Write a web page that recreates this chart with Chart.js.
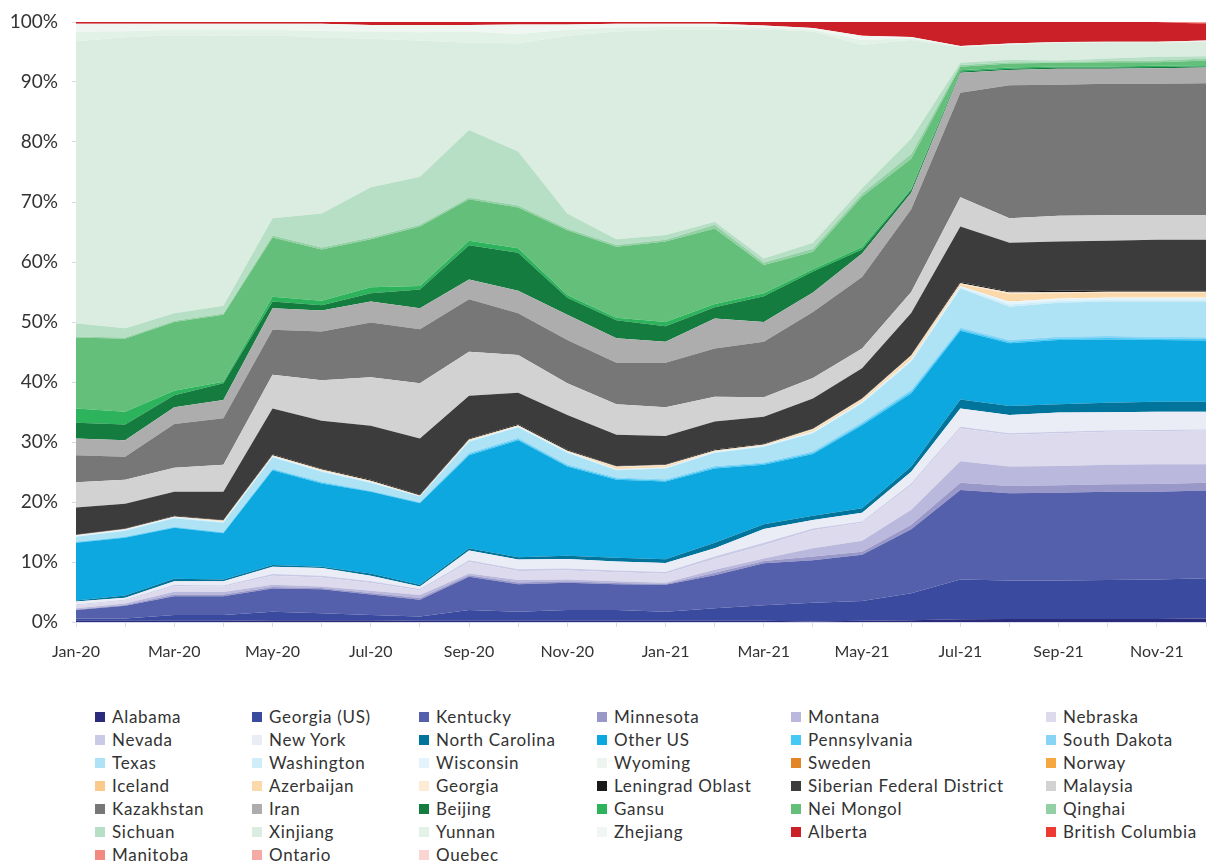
<!DOCTYPE html>
<html>
<head>
<meta charset="utf-8">
<script src="https://cdn.jsdelivr.net/npm/chart.js@4.4.1/dist/chart.umd.min.js"></script>
<style>
  html, body { margin: 0; padding: 0; background: #ffffff; }
  body { width: 1208px; height: 861px; position: relative; overflow: hidden; font-family: Lato, "Open Sans", sans-serif; }
  #wrap { position: absolute; left: 0; top: 0; width: 1208px; height: 680px; }
  #legend { position: absolute; left: 95px; top: 705px; display: grid;
            grid-template-columns: 157px 167px 178px 194px 255px auto; grid-auto-rows: 23px; }
  .item { display: flex; align-items: center; font-size: 17px; color: #333333; letter-spacing: 0.7px; white-space: nowrap; }
  .box { width: 10px; height: 10px; margin-right: 7px; flex: none; }
</style>
</head>
<body>
<div id="wrap"><canvas id="c" width="1208" height="680"></canvas></div>
<div id="legend"></div>
<script>
const months = ["Jan-20","Feb-20","Mar-20","Apr-20","May-20","Jun-20","Jul-20","Aug-20","Sep-20","Oct-20","Nov-20","Dec-20",
                "Jan-21","Feb-21","Mar-21","Apr-21","May-21","Jun-21","Jul-21","Aug-21","Sep-21","Oct-21","Nov-21","Dec-21"];
const yTicks = [0,10,20,30,40,50,60,70,80,90,100];

const alabama      = [0.2,0.2,0.2,0.2,0.3,0.3,0.3,0.2,0.2,0.2,0.2,0.2,0.2,0.2,0.2,0.1,0.2,0.3,0.45,0.5,0.5,0.5,0.5,0.6];
const georgiaUS    = [0.4,0.4,0.95,0.95,1.4,1.15,0.85,0.7,1.8,1.5,1.8,1.8,1.5,2.1,2.6,3.1,3.3,4.5,6.65,6.4,6.4,6.5,6.6,6.7];
const kentucky     = [1.4,2.1,3.15,3.15,3.9,4.0,3.45,2.8,5.55,4.6,4.55,4.3,4.5,5.5,7.0,7.1,7.7,10.65,14.9,14.55,14.65,14.7,14.6,14.6];
const minnesota    = [0.1,0.15,0.3,0.3,0.25,0.2,0.25,0.3,0.25,0.3,0.25,0.2,0.15,0.4,0.35,0.6,0.5,0.75,1.2,1.2,1.25,1.25,1.3,1.3];
const montana      = [0.2,0.25,0.45,0.4,0.35,0.25,0.35,0.5,0.3,0.4,0.3,0.3,0.2,0.5,0.45,1.4,1.85,2.5,3.6,3.25,3.2,3.25,3.3,3.1];
const nebraska     = [0.5,0.5,0.9,0.9,1.5,1.5,1.3,0.8,1.9,1.5,1.5,1.5,1.5,1.8,2.2,3.0,3.0,4.1,5.45,5.3,5.45,5.5,5.5,5.6];
const nevada       = [0.1,0.1,0.2,0.2,0.3,0.3,0.3,0.2,0.3,0.3,0.3,0.3,0.3,0.4,0.4,0.3,0.2,0.3,0.3,0.25,0.25,0.2,0.2,0.2];
const newYork      = [0.5,0.35,0.65,0.7,1.2,1.3,0.9,0.4,1.6,1.6,1.6,1.5,1.5,1.4,2.3,1.4,1.45,1.95,3.05,3.05,3.2,3.05,3.05,2.95];
const northCarolina= [0.2,0.35,0.4,0.3,0.3,0.2,0.4,0.3,0.4,0.4,0.55,0.6,0.6,0.9,0.8,0.7,0.75,0.85,1.5,1.5,1.4,1.6,1.65,1.65];
const otherUS      = [9.6,9.65,8.5,7.7,15.8,13.9,13.6,13.6,15.5,19.5,14.85,13.0,12.95,12.4,9.9,10.3,13.85,12.2,11.45,10.45,10.7,10.55,10.3,10.2];
const pennsylvania = [0.1,0.1,0.1,0.1,0.15,0.15,0.1,0.1,0.2,0.2,0.2,0.2,0.2,0.2,0.2,0.2,0.25,0.3,0.25,0.25,0.25,0.25,0.25,0.25];
const southDakota  = [0.1,0.1,0.1,0.1,0.15,0.15,0.1,0.1,0.2,0.2,0.2,0.2,0.2,0.2,0.2,0.25,0.3,0.3,0.3,0.3,0.3,0.3,0.3,0.3];
const texas        = [0.8,0.95,1.4,1.55,1.85,1.65,1.3,0.9,1.85,1.75,1.9,1.2,1.8,2.2,2.6,3.0,3.1,4.7,6.5,5.55,5.65,5.75,5.85,5.95];
const washington   = [0.1,0.1,0.1,0.1,0.1,0.1,0.1,0.05,0.1,0.1,0.1,0.1,0.1,0.1,0.1,0.15,0.15,0.2,0.2,0.35,0.3,0.3,0.3,0.3];
const wisconsin    = [0.1,0.1,0.1,0.1,0.1,0.1,0.1,0.05,0.1,0.1,0.1,0.1,0.1,0.1,0.1,0.15,0.15,0.2,0.2,0.4,0.3,0.3,0.3,0.3];
const wyoming      = [0,0,0,0,0,0,0,0,0,0,0,0,0,0,0,0,0,0,0,0.1,0.1,0.1,0.1,0.1];
const sweden       = [0,0,0,0,0,0,0,0,0,0,0,0,0,0,0,0,0,0,0,0,0,0,0,0];
const norway       = [0,0,0,0,0,0,0,0,0,0,0,0,0,0,0,0,0,0,0,0,0,0,0,0];
const iceland      = [0,0,0,0,0,0,0,0,0,0,0,0.1,0.1,0.05,0.05,0.1,0.1,0.15,0.15,0.2,0.1,0.1,0.1,0.1];
const azerbaijan   = [0.1,0.1,0.1,0.15,0.15,0.15,0.15,0.1,0.15,0.15,0.15,0.2,0.15,0.1,0.1,0.2,0.25,0.35,0.2,1.1,0.8,0.7,0.7,0.7];
const georgia      = [0,0,0,0,0,0,0,0,0,0,0,0.1,0.1,0.05,0.05,0.1,0.1,0.1,0.1,0.2,0.15,0.15,0.15,0.15];
const leningrad    = [0.1,0.1,0.1,0.1,0.15,0.15,0.15,0.1,0.15,0.15,0.15,0.1,0.1,0.15,0.1,0.1,0.1,0.1,0.2,0.2,0.25,0.25,0.25,0.25];
const siberian     = [4.5,4.1,4.0,4.7,7.65,8.0,9.0,9.4,7.15,5.25,5.8,5.2,4.75,4.65,4.5,5.0,5.0,7.0,9.25,8.1,8.2,8.25,8.4,8.4];
const malaysia     = [4.2,4.0,4.0,4.5,5.6,6.75,8.1,9.2,7.35,6.3,5.3,5.1,4.8,4.15,3.25,3.4,3.3,3.5,4.9,4.1,4.3,4.25,4.1,4.1];
const kazakhstan   = [4.5,3.85,7.3,7.75,7.5,8.1,9.1,9.0,8.75,6.95,7.2,6.9,7.4,8.05,9.25,11.0,11.9,13.8,17.4,22.15,21.85,21.9,21.9,22.0];
const iran         = [2.8,2.75,2.8,3.05,3.6,3.5,3.5,3.5,3.3,3.75,4.2,4.1,3.5,5.0,3.3,3.25,3.9,2.75,3.35,2.55,2.65,2.5,2.6,2.6];
const beijing      = [2.6,2.6,2.0,2.8,1.1,0.9,1.4,3.1,5.7,6.35,2.85,3.0,2.6,1.85,4.3,3.5,0.7,0.45,0.2,0.2,0.2,0.2,0.2,0.2];
const gansu        = [2.4,2.15,0.75,0.25,0.8,0.75,1.0,0.6,0.75,0.75,0.45,0.4,0.7,0.55,0.5,0.4,0.4,0.2,0.2,0.2,0.2,0.2,0.2,0.2];
const neiMongol    = [11.8,12.15,11.45,11.15,9.9,8.55,8.0,9.9,6.9,6.8,10.8,11.85,13.4,12.6,4.7,2.9,8.4,5.0,0.6,0.7,0.6,0.7,0.6,0.8];
const qinghai      = [0.2,0.2,0.2,0.2,0.3,0.3,0.3,0.3,0.3,0.3,0.3,0.3,0.3,0.6,0.4,0.5,0.5,0.8,0.3,0.2,0.1,0.2,0.3,0.3];
const sichuan      = [2.2,1.55,1.25,1.3,2.9,5.7,8.35,8.0,11.25,9.0,2.5,0.95,0.8,0.5,0.7,1.0,0.9,2.6,0.35,0.4,0.3,0.4,0.6,0.4];
const xinjiang     = [47.0,48.5,46.35,45.0,30.5,29.3,24.75,22.7,14.55,18.05,29.6,34.6,34.2,32.0,38.2,35.2,23.9,16.4,2.6,2.5,2.95,2.65,2.35,2.4];
const yunnan       = [1.6,1.0,0.9,1.0,0.9,1.1,1.2,1.4,1.85,1.55,1.0,0.7,0.5,0.5,0.3,0.3,0.8,0.3,0.1,0.1,0.05,0.1,0.1,0.1];
const zhejiang     = [1.3,1.25,1.0,1.0,1.0,1.2,1.1,1.2,1.1,1.6,0.9,0.6,0.5,0.5,0.3,0.3,0.7,0.2,0.1,0.1,0.05,0.05,0.05,0.1];
const alberta      = [0.3,0.3,0.3,0.3,0.3,0.3,0.5,0.5,0.5,0.4,0.4,0.3,0.3,0.3,0.6,1.0,2.3,2.5,4.0,3.6,3.35,3.3,3.3,2.8];
const britishColumbia = [0,0,0,0,0,0,0,0,0,0,0,0,0,0,0,0,0,0,0,0,0,0,0,0.15];
const manitoba     = [0,0,0,0,0,0,0,0,0,0,0,0,0,0,0,0,0,0,0,0,0,0,0,0.1];
const ontario      = [0,0,0,0,0,0,0,0,0,0,0,0,0,0,0,0,0,0,0,0,0,0,0,0.05];
const quebec       = [0,0,0,0,0,0,0,0,0,0,0,0,0,0,0,0,0,0,0,0,0,0,0,0];

const seriesNames = ["Alabama","Georgia (US)","Kentucky","Minnesota","Montana","Nebraska",
  "Nevada","New York","North Carolina","Other US","Pennsylvania","South Dakota",
  "Texas","Washington","Wisconsin","Wyoming","Sweden","Norway",
  "Iceland","Azerbaijan","Georgia","Leningrad Oblast","Siberian Federal District","Malaysia",
  "Kazakhstan","Iran","Beijing","Gansu","Nei Mongol","Qinghai",
  "Sichuan","Xinjiang","Yunnan","Zhejiang","Alberta","British Columbia",
  "Manitoba","Ontario","Quebec"];
const seriesValues = [alabama,georgiaUS,kentucky,minnesota,montana,nebraska,
  nevada,newYork,northCarolina,otherUS,pennsylvania,southDakota,
  texas,washington,wisconsin,wyoming,sweden,norway,
  iceland,azerbaijan,georgia,leningrad,siberian,malaysia,
  kazakhstan,iran,beijing,gansu,neiMongol,qinghai,
  sichuan,xinjiang,yunnan,zhejiang,alberta,britishColumbia,
  manitoba,ontario,quebec];
const seriesColors = ["#2b2b7b","#3a4a9e","#5560ac","#9a98c8","#bab8dc","#dcdaec",
  "#c8cae6","#eaecf6","#00749a","#0ea8e0","#44c8f5","#88d4f4",
  "#aee2f5","#d0eefa","#e2f3fb","#eef5f0","#e38525","#f5a741",
  "#fbc98a","#fbd9ab","#fdebd6","#1a1a1a","#3c3c3c","#d2d2d2",
  "#777777","#adadad","#137c3e","#2cb35b","#64bf7a","#94d0a5",
  "#b7dfc5","#dbede1","#e3f2e7","#f0f7f2","#cb2027","#ec3b33",
  "#f28a82","#f6aaa5","#fad5d2"];

const datasets = seriesNames.map((name, i) => ({
  label: name,
  data: seriesValues[i],
  backgroundColor: seriesColors[i],
  borderColor: seriesColors[i],
  borderWidth: 0,
  pointRadius: 0,
  fill: i === 0 ? 'origin' : '-1',
  tension: 0
}));

const tickColor = '#d5dbec';
new Chart(document.getElementById('c'), {
  type: 'line',
  data: { labels: months, datasets: datasets },
  options: {
    responsive: false,
    animation: false,
    layout: { padding: { top: 22, right: 2, left: 0, bottom: 0 } },
    plugins: { legend: { display: false }, tooltip: { enabled: false } },
    elements: { line: { borderWidth: 0 } },
    scales: {
      x: {
        grid: { display: true, drawOnChartArea: false, drawTicks: true, tickLength: 5, color: tickColor },
        border: { display: true, color: tickColor },
        ticks: {
          autoSkip: false, maxRotation: 0, padding: 15, color: '#333333',
          font: { family: 'Lato', size: 16 },
          callback: function(v, i) { return i % 2 === 0 ? months[i] : ''; }
        },
        afterFit: function(s) { s.height = 58; s.paddingLeft = 0; s.paddingRight = 0; }
      },
      y: {
        stacked: true, min: 0, max: 100,
        grid: { display: true, drawOnChartArea: false, drawTicks: true, tickLength: 4, color: tickColor },
        border: { display: false },
        ticks: {
          stepSize: 10, padding: 14, color: '#333333',
          font: { family: 'Lato', size: 19 },
          callback: function(v) { return yTicks.includes(v) ? v + '%' : ''; }
        },
        afterFit: function(s) { s.width = 76; s.paddingTop = 0; s.paddingBottom = 0; }
      }
    }
  }
});

const legendEl = document.getElementById('legend');
seriesNames.forEach((name, i) => {
  const it = document.createElement('div');
  it.className = 'item';
  const b = document.createElement('span');
  b.className = 'box';
  b.style.background = seriesColors[i];
  const t = document.createElement('span');
  t.textContent = name;
  it.appendChild(b); it.appendChild(t);
  legendEl.appendChild(it);
});
</script>
</body>
</html>
